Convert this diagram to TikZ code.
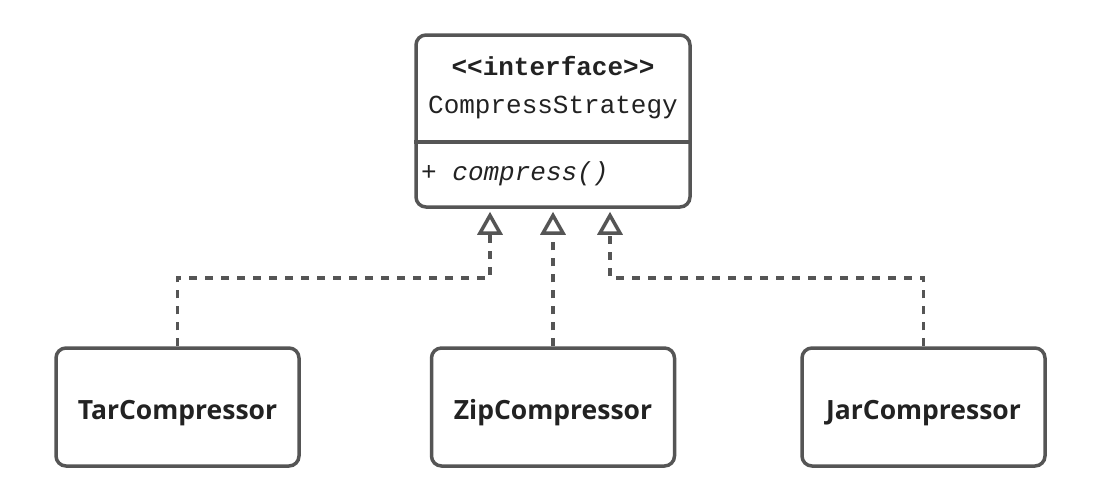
\documentclass[tikz,border=0pt]{standalone}
\usepackage{fontspec}
\setmainfont{Open Sans}
\setmonofont{Liberation Mono}
\usetikzlibrary{arrows.meta}
\definecolor{linec}{HTML}{555555}
\definecolor{textc}{HTML}{222222}
\tikzset{
  umlbox/.style={draw=linec, line width=3.5pt, rounded corners=10pt, fill=white, inner sep=0pt},
  classbox/.style={umlbox, minimum width=243pt, minimum height=118pt, text height=25pt, text depth=0pt, font=\fontsize{26.5}{30}\selectfont\bfseries, text=textc},
  dep/.style={draw=linec, line width=3.5pt, dash pattern=on 8pt off 8pt,
    -{Triangle[open, length=23pt, width=25pt, line width=3.5pt]}, shorten >=3pt},
  monotxt/.style={font=\fontsize{26}{30}\selectfont\ttfamily, text=textc, inner sep=0pt}
}
\begin{document}
\begin{tikzpicture}[x=1pt, y=-1pt]
\useasboundingbox (0,0) rectangle (1104,482);
\node[umlbox, minimum width=274pt, minimum height=172pt] (iface) at (553,121) {};
\draw[linec, line width=3.5pt] (iface.west |- 0,142) coordinate (dl) -- (iface.east |- 0,142) coordinate (dr);
\node[monotxt, font=\fontsize{26}{30}\selectfont\ttfamily\bfseries] (stereo) at (553,66) {<<interface>>};
\node[monotxt] (iname) at (553,107) {CompressStrategy};
\node[monotxt, anchor=west, font=\fontsize{26}{30}\selectfont\ttfamily\itshape] (op) at (421,174) {+ compress()};

\node[classbox] (tar) at (177.5,407) {TarCompressor};
\node[classbox] (zip) at (553,407) {ZipCompressor};
\node[classbox] (jar) at (923.5,407) {JarCompressor};

\coordinate (b1) at (490,278);
\coordinate (b2) at (553,278);
\coordinate (b3) at (610,278);

\draw[dep] (tar.north) |- (b1) -- (iface.south -| b1);
\draw[dep] (zip.north) -- (iface.south -| b2);
\draw[dep] (jar.north) |- (b3) -- (iface.south -| b3);
\end{tikzpicture}
\end{document}
